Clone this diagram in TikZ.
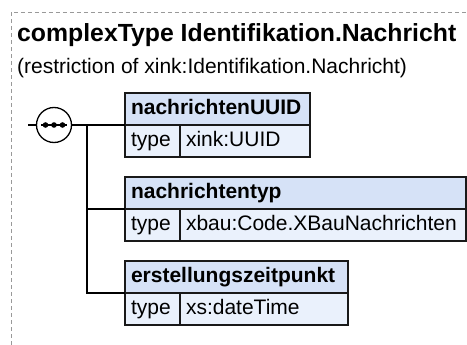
\documentclass[tikz,border=0pt]{standalone}
\usepackage{fontspec}
\setmainfont{Liberation Sans}
\usepackage{tikz}
\usetikzlibrary{shapes}
\usetikzlibrary{positioning}

\definecolor{headblue}{HTML}{D6E2F7}
\definecolor{rowblue}{HTML}{EAF1FC}
\definecolor{framegray}{HTML}{999999}

\begin{document}
\begin{tikzpicture}[x=1pt,y=-1pt]
	\tikzstyle{head}=[draw=black!90, line width=1.3pt, fill=headblue, anchor=north west, outer sep=0pt, minimum height=32pt, inner xsep=6pt, text height=15pt, text depth=4.5pt, align=left, font=\fontsize{21}{22}\selectfont\bfseries]
	\tikzstyle{cell}=[draw=black!90, line width=1.3pt, fill=rowblue, anchor=north west, outer sep=0pt, minimum height=32pt, inner xsep=6pt, text height=15pt, text depth=4.5pt, align=left, font=\fontsize{21}{22}\selectfont]
	\tikzstyle{edge}=[draw=black, line width=1.3pt]
	\tikzstyle{seq}=[circle, draw=black, line width=1.3pt, fill=white, minimum size=35pt, inner sep=0pt]

	\useasboundingbox (0,0) rectangle (467,345);
	\draw[framegray, dash pattern=on 4pt off 3pt, line width=0.8pt] (11,345) -- (11,12) -- (467,12);

	\node[anchor=base west, inner sep=0pt, font=\fontsize{24.8}{28}\selectfont\bfseries] (title) at (17,42) {complexType Identifikation.Nachricht};
	\node[anchor=base west, inner sep=0pt, font=\fontsize{21}{24}\selectfont] (sub) at (17,74) {(restriction of xink:Identifikation.Nachricht)};

	\node [head, text width=173pt] (uuidhead) at (125,93) {nachrichtenUUID};
	\node [cell, text width=43pt] (uuidkey) at (uuidhead.south west) {type};
	\node [cell, text width=118pt] (uuidval) at (uuidkey.north east) {xink:UUID};

	\node [head, text width=329pt] (typhead) at (125,177) {nachrichtentyp};
	\node [cell, text width=43pt] (typkey) at (typhead.south west) {type};
	\node [cell, text width=274pt] (typval) at (typkey.north east) {xbau:Code.XBauNachrichten};

	\node [head, text width=211pt] (zeithead) at (125,261) {erstellungszeitpunkt};
	\node [cell, text width=43pt] (zeitkey) at (zeithead.south west) {type};
	\node [cell, text width=156pt] (zeitval) at (zeitkey.north east) {xs:dateTime};

	\node [seq] (seq) at (54,125) {};
	\coordinate (in) at (28,125);
	\coordinate (fork) at (87,125);

	\path[edge] (in) -- (seq);
	\path[edge] (seq) -- (uuidhead.south west);
	\path[edge] (fork) |- (typhead.south west);
	\path[edge] (fork) |- (zeithead.south west);

	\path[edge] ([xshift=-13pt]seq.center) -- ([xshift=13pt]seq.center);
	\foreach \d in {-8.5,0,8.5}
		\fill ([xshift=\d pt]seq.center) circle (2.8);
\end{tikzpicture}
\end{document}
